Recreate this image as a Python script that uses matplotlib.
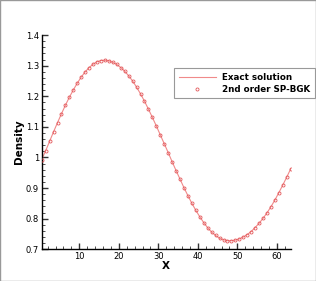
import matplotlib
matplotlib.use('Agg')
import matplotlib.pyplot as plt
import numpy as np
from matplotlib.ticker import MultipleLocator, FormatStrFormatter
from matplotlib.patches import Rectangle

# cell centres and density values
x = np.arange(0.5, 64, 1.0)
density = [0.993, 1.022, 1.053, 1.084, 1.114, 1.143, 1.171, 1.197, 1.221, 1.243,
           1.263, 1.280, 1.294, 1.305, 1.313, 1.317, 1.318, 1.316, 1.311, 1.304,
           1.294, 1.282, 1.267, 1.250, 1.230, 1.208, 1.184, 1.158, 1.131, 1.103,
           1.074, 1.045, 1.016, 0.986, 0.957, 0.929, 0.901, 0.875, 0.850, 0.827,
           0.806, 0.787, 0.770, 0.756, 0.745, 0.736, 0.731, 0.728, 0.728, 0.730,
           0.734, 0.740, 0.748, 0.758, 0.771, 0.785, 0.801, 0.819, 0.839, 0.861,
           0.885, 0.910, 0.936, 0.963]
labels = ['Exact solution', '2nd order SP-BGK']

fig = plt.figure(figsize=(3.16, 2.81), dpi=100)
ax = fig.add_axes([0.132, 0.113, 0.788, 0.762])

ax.plot(x, density, color='#f08a8a', lw=0.8, label=labels[0], zorder=2)
ax.plot(x, density, ls='none', marker='o', ms=2.2, mfc='none', mec='#e3575a',
        mew=0.6, label=labels[1], zorder=3)

ax.set_xlim(0.5, 63.5)
ax.set_ylim(0.7, 1.4)
ax.xaxis.set_major_locator(MultipleLocator(10))
ax.xaxis.set_minor_locator(MultipleLocator(2))
ax.yaxis.set_major_locator(MultipleLocator(0.1))
ax.yaxis.set_minor_locator(MultipleLocator(0.02))
ax.yaxis.set_major_formatter(FormatStrFormatter('%g'))

for s in ['top', 'right']:
  ax.spines[s].set_visible(False)
for s in ['left', 'bottom']:
  ax.spines[s].set_linewidth(1.0)

ax.tick_params(which='major', direction='in', length=4, width=1.0, labelsize=6, pad=2, color='#333333')
ax.tick_params(which='minor', direction='in', length=2.2, width=0.6, color='#333333')

ax.set_xlabel('X', fontsize=7.5, fontweight='bold', labelpad=0)
ax.set_ylabel('Density', fontsize=7.5, fontweight='bold', labelpad=1)

leg = ax.legend(loc='upper left', bbox_to_anchor=(170 / 316, 1 - 64 / 281),
                bbox_transform=fig.transFigure, fontsize=6.3, numpoints=1,
                handlelength=4.2, handletextpad=0.8, borderpad=0.5,
                labelspacing=0.35, fancybox=False, framealpha=1)
leg.get_frame().set_edgecolor('#999999')
leg.get_frame().set_linewidth(0.8)
for t in leg.get_texts():
  t.set_fontweight('bold')

# thin grey border round the whole picture
fig.patches.append(Rectangle((0.0015, 0.0015), 0.997, 0.997, transform=fig.transFigure,
                             fill=False, edgecolor='#999999', lw=1.0))

fig.savefig('out.png', dpi=100)
